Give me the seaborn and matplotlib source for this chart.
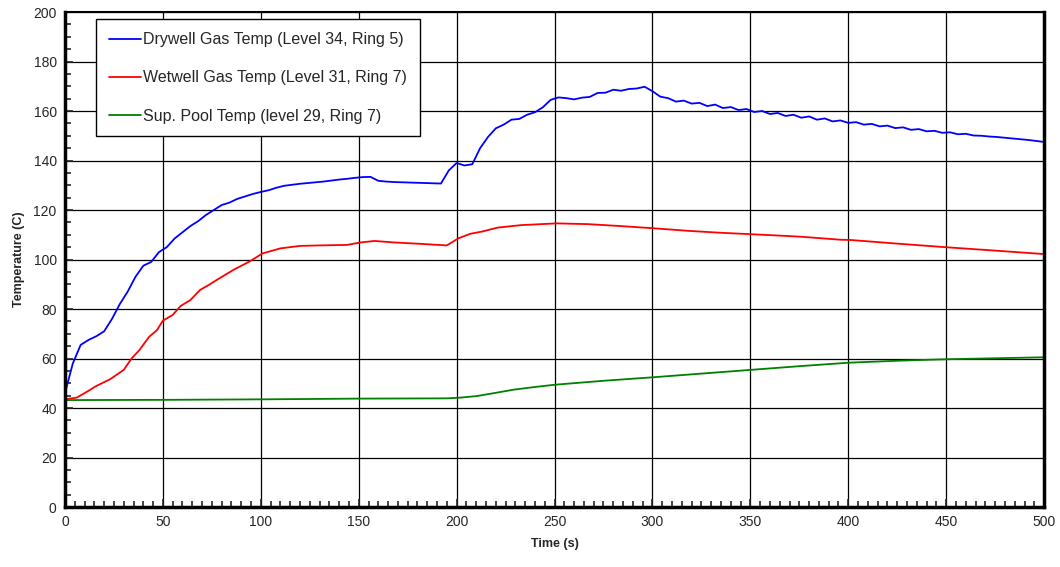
import numpy as np
import pandas as pd
import matplotlib
matplotlib.use("Agg")
import matplotlib.pyplot as plt
from matplotlib.ticker import MultipleLocator
import seaborn as sns

# Drywell gas temperature, sampled every 4 s
drywell_time = list(range(0, 501, 4))
drywell_temp = [46, 58, 65.5, 67.5, 69, 71, 76, 82, 87, 93,
                97.5, 99, 103, 105, 108.5, 111, 113.5, 115.5, 118, 120,
                122, 123, 124.5, 125.5, 126.5, 127.3, 128, 129, 129.8, 130.2,
                130.6, 130.9, 131.2, 131.5, 131.9, 132.3, 132.6, 133.0, 133.3, 133.4,
                131.8, 131.5, 131.3, 131.2, 131.1, 131.0, 130.9, 130.8, 130.7, 136,
                139, 138, 138.5, 145, 149.5, 153, 154.5, 156.5, 156.8, 158.5,
                159.5, 161.5, 164.5, 165.5, 165.2, 164.7, 165.4, 165.7, 167.3, 167.4,
                168.6, 168.2, 168.9, 169.1, 169.8, 168, 165.8, 165.2, 163.8, 164.2,
                163.0, 163.3, 162.0, 162.6, 161.2, 161.6, 160.4, 160.8, 159.6, 160.0,
                158.8, 159.2, 158.0, 158.5, 157.3, 157.8, 156.5, 157.0, 155.8, 156.2,
                155.2, 155.5, 154.5, 154.8, 153.8, 154.1, 153.1, 153.4, 152.4, 152.7,
                151.8, 152.0, 151.2, 151.4, 150.6, 150.8, 150.1, 150.0, 149.7, 149.5,
                149.2, 148.9, 148.6, 148.3, 147.9, 147.5]

# Wetwell gas temperature
wetwell_time = [0, 6, 10, 16, 23, 30, 34, 38, 43, 47, 50, 55, 59, 64, 69, 74, 78, 86, 94, 101,
                110, 120, 130, 144, 151, 158, 168, 180, 195, 201, 207, 213, 221, 233, 251,
                267, 284, 301, 318, 335, 351, 369, 376, 396, 401, 427, 451, 475, 500]
wetwell_temp = [43.5, 44.2, 46, 48.9, 51.6, 55.4, 60, 63.4, 68.8, 71.5, 75.3, 77.6, 81.2, 83.6,
                87.7, 90, 92, 95.8, 99.1, 102.5, 104.5, 105.5, 105.7, 105.9, 106.9, 107.5, 106.9,
                106.4, 105.7, 108.6, 110.4, 111.3, 112.9, 113.9, 114.6, 114.3, 113.5, 112.6,
                111.6, 110.8, 110.2, 109.5, 109.2, 108.0, 107.9, 106.3, 104.9, 103.6, 102.2]

# Suppression pool temperature
pool_time = [0, 50, 100, 150, 195, 202, 210, 219, 229, 239, 250, 275, 300, 325, 350,
             375, 400, 425, 450, 475, 500]
pool_temp = [43.2, 43.3, 43.5, 43.8, 43.9, 44.2, 44.8, 46, 47.4, 48.4, 49.4, 51, 52.4,
             53.9, 55.4, 56.9, 58.3, 59.1, 59.7, 60.1, 60.5]

sns.set_style("white")
plt.rcParams['font.family'] = ['Liberation Sans', 'DejaVu Sans']

fig = plt.figure(figsize=(10.6, 5.67), dpi=100)
ax = fig.add_axes([0.0613, 0.1058, 0.9237, 0.873])

sns.lineplot(x=drywell_time, y=drywell_temp, color='#0000ff', lw=1.3,
             label='Drywell Gas Temp (Level 34, Ring 5)', ax=ax)
sns.lineplot(x=wetwell_time, y=wetwell_temp, color='#ff0000', lw=1.3,
             label='Wetwell Gas Temp (Level 31, Ring 7)', ax=ax)
sns.lineplot(x=pool_time, y=pool_temp, color='#008000', lw=1.3,
             label='Sup. Pool Temp (level 29, Ring 7)', ax=ax)

ax.set_xlim(0, 500)
ax.set_ylim(0, 200)
ax.xaxis.set_major_locator(MultipleLocator(50))
ax.xaxis.set_minor_locator(MultipleLocator(5))
ax.yaxis.set_major_locator(MultipleLocator(20))
ax.yaxis.set_minor_locator(MultipleLocator(5))
ax.grid(True, which='major', color='black', lw=0.9)
ax.set_axisbelow(True)
ax.tick_params(which='major', direction='in', length=6, width=1.2, labelsize=10, pad=6,
               bottom=True, left=True)
ax.tick_params(which='minor', direction='in', length=4, width=1.2, bottom=True, left=True)

for side in ['left', 'bottom', 'right']:
    ax.spines[side].set_linewidth(2.5)
    ax.spines[side].set_color('black')
ax.spines['top'].set_linewidth(1.5)
ax.spines['top'].set_color('black')

ax.set_xlabel('Time (s)', fontsize=9, fontweight='bold', labelpad=6)
ax.set_ylabel('Temperature (C)', fontsize=9, fontweight='bold', labelpad=6)

leg = ax.legend(loc='upper left', bbox_to_anchor=(0.032, 0.985), fontsize=11.5,
                frameon=True, fancybox=False, edgecolor='black', framealpha=1,
                labelspacing=1.45, handlelength=2.0, handletextpad=0.15,
                borderpad=0.8, borderaxespad=0)
leg.get_frame().set_linewidth(1.0)

fig.savefig('out.png', dpi=100)
